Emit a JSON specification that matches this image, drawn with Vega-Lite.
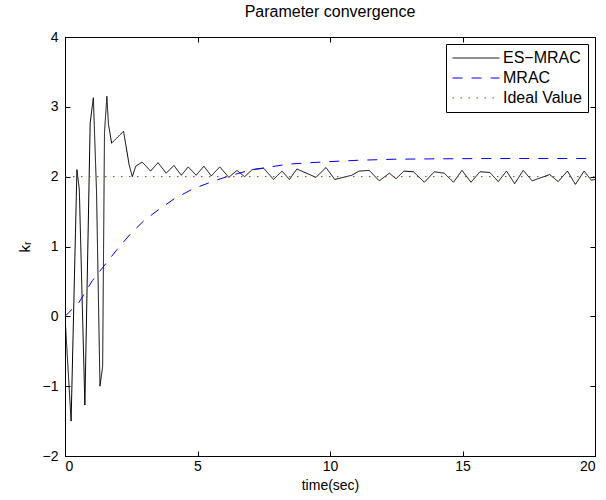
{
  "$schema": "https://vega.github.io/schema/vega-lite/v6.json",
  "width": 530,
  "height": 419,
  "autosize": {"type": "none"},
  "padding": {"left": 65, "top": 37, "right": 11, "bottom": 44},
  "background": "white",
  "config": {
    "font": "Liberation Sans",
    "view": {"stroke": "black", "strokeWidth": 1},
    "axis": {"grid": false, "domainColor": "black", "tickColor": "black", "labelColor": "black", "titleColor": "black", "labelFontSize": 14, "titleFontSize": 14, "titleFontWeight": "normal", "tickSize": -5}
  },
  "title": {"text": "Parameter convergence", "fontSize": 16, "fontWeight": "normal", "font": "Liberation Sans", "offset": 10, "color": "black"},
  "datasets": {
    "lines": [
      {"series": "ES−MRAC", "t": 0, "v": 0.0},
      {"series": "ES−MRAC", "t": 0.23, "v": -1.50},
      {"series": "ES−MRAC", "t": 0.45, "v": 2.10},
      {"series": "ES−MRAC", "t": 0.54, "v": 1.82},
      {"series": "ES−MRAC", "t": 0.75, "v": -1.27},
      {"series": "ES−MRAC", "t": 0.95, "v": 2.77},
      {"series": "ES−MRAC", "t": 1.07, "v": 3.13},
      {"series": "ES−MRAC", "t": 1.19, "v": 1.78},
      {"series": "ES−MRAC", "t": 1.32, "v": -1.0},
      {"series": "ES−MRAC", "t": 1.42, "v": -0.72},
      {"series": "ES−MRAC", "t": 1.49, "v": 2.63},
      {"series": "ES−MRAC", "t": 1.58, "v": 3.15},
      {"series": "ES−MRAC", "t": 1.64, "v": 2.75},
      {"series": "ES−MRAC", "t": 1.76, "v": 2.48},
      {"series": "ES−MRAC", "t": 2.21, "v": 2.65},
      {"series": "ES−MRAC", "t": 2.42, "v": 2.17},
      {"series": "ES−MRAC", "t": 2.54, "v": 2.00},
      {"series": "ES−MRAC", "t": 2.67, "v": 2.15},
      {"series": "ES−MRAC", "t": 2.91, "v": 2.21},
      {"series": "ES−MRAC", "t": 3.23, "v": 2.08},
      {"series": "ES−MRAC", "t": 3.51, "v": 2.20},
      {"series": "ES−MRAC", "t": 3.82, "v": 2.05},
      {"series": "ES−MRAC", "t": 4.11, "v": 2.16},
      {"series": "ES−MRAC", "t": 4.39, "v": 2.02},
      {"series": "ES−MRAC", "t": 4.65, "v": 2.14},
      {"series": "ES−MRAC", "t": 4.95, "v": 2.02},
      {"series": "ES−MRAC", "t": 5.24, "v": 2.15},
      {"series": "ES−MRAC", "t": 5.52, "v": 2.01},
      {"series": "ES−MRAC", "t": 5.84, "v": 2.14},
      {"series": "ES−MRAC", "t": 6.18, "v": 1.99},
      {"series": "ES−MRAC", "t": 6.49, "v": 2.09},
      {"series": "ES−MRAC", "t": 6.78, "v": 2.00},
      {"series": "ES−MRAC", "t": 7.06, "v": 2.10},
      {"series": "ES−MRAC", "t": 7.50, "v": 2.12},
      {"series": "ES−MRAC", "t": 7.87, "v": 1.96},
      {"series": "ES−MRAC", "t": 8.19, "v": 2.08},
      {"series": "ES−MRAC", "t": 8.47, "v": 1.96},
      {"series": "ES−MRAC", "t": 8.75, "v": 2.11},
      {"series": "ES−MRAC", "t": 9.47, "v": 1.99},
      {"series": "ES−MRAC", "t": 9.85, "v": 2.13},
      {"series": "ES−MRAC", "t": 10.18, "v": 1.96},
      {"series": "ES−MRAC", "t": 10.82, "v": 2.02},
      {"series": "ES−MRAC", "t": 11.10, "v": 2.08},
      {"series": "ES−MRAC", "t": 11.48, "v": 2.09},
      {"series": "ES−MRAC", "t": 11.86, "v": 1.94},
      {"series": "ES−MRAC", "t": 12.24, "v": 2.05},
      {"series": "ES−MRAC", "t": 12.49, "v": 1.97},
      {"series": "ES−MRAC", "t": 12.79, "v": 2.08},
      {"series": "ES−MRAC", "t": 13.15, "v": 2.07},
      {"series": "ES−MRAC", "t": 13.56, "v": 1.92},
      {"series": "ES−MRAC", "t": 13.94, "v": 2.07},
      {"series": "ES−MRAC", "t": 14.31, "v": 2.05},
      {"series": "ES−MRAC", "t": 14.66, "v": 1.92},
      {"series": "ES−MRAC", "t": 14.98, "v": 2.09},
      {"series": "ES−MRAC", "t": 15.32, "v": 1.92},
      {"series": "ES−MRAC", "t": 15.66, "v": 2.07},
      {"series": "ES−MRAC", "t": 16.03, "v": 2.06},
      {"series": "ES−MRAC", "t": 16.35, "v": 1.93},
      {"series": "ES−MRAC", "t": 16.66, "v": 2.08},
      {"series": "ES−MRAC", "t": 16.97, "v": 1.90},
      {"series": "ES−MRAC", "t": 17.29, "v": 2.09},
      {"series": "ES−MRAC", "t": 17.63, "v": 1.94},
      {"series": "ES−MRAC", "t": 18.29, "v": 2.03},
      {"series": "ES−MRAC", "t": 18.61, "v": 1.93},
      {"series": "ES−MRAC", "t": 18.96, "v": 2.08},
      {"series": "ES−MRAC", "t": 19.26, "v": 1.89},
      {"series": "ES−MRAC", "t": 19.59, "v": 2.08},
      {"series": "ES−MRAC", "t": 19.86, "v": 1.95},
      {"series": "ES−MRAC", "t": 20, "v": 1.96},
      {"series": "MRAC", "t": 0, "v": 0.0},
      {"series": "MRAC", "t": 0.53, "v": 0.20},
      {"series": "MRAC", "t": 1.03, "v": 0.51},
      {"series": "MRAC", "t": 1.53, "v": 0.75},
      {"series": "MRAC", "t": 1.97, "v": 0.96},
      {"series": "MRAC", "t": 2.47, "v": 1.18},
      {"series": "MRAC", "t": 2.98, "v": 1.37},
      {"series": "MRAC", "t": 3.54, "v": 1.53},
      {"series": "MRAC", "t": 4.11, "v": 1.68},
      {"series": "MRAC", "t": 4.8, "v": 1.82},
      {"series": "MRAC", "t": 5.42, "v": 1.91},
      {"series": "MRAC", "t": 6.18, "v": 2.01},
      {"series": "MRAC", "t": 7.06, "v": 2.10},
      {"series": "MRAC", "t": 8.44, "v": 2.18},
      {"series": "MRAC", "t": 9.69, "v": 2.21},
      {"series": "MRAC", "t": 11.07, "v": 2.235},
      {"series": "MRAC", "t": 12.45, "v": 2.25},
      {"series": "MRAC", "t": 14, "v": 2.255},
      {"series": "MRAC", "t": 16, "v": 2.26},
      {"series": "MRAC", "t": 18, "v": 2.26},
      {"series": "MRAC", "t": 20, "v": 2.26},
      {"series": "Ideal Value", "t": 0, "v": 2},
      {"series": "Ideal Value", "t": 20, "v": 2}
    ]
  },
  "data": {"name": "lines"},
  "layer": [
    {
      "mark": {"type": "line", "strokeWidth": 1, "clip": true},
      "encoding": {
        "x": {"field": "t", "type": "quantitative", "scale": {"domain": [0, 20], "nice": false}, "axis": {"values": [0, 5, 10, 15, 20], "title": "time(sec)", "titlePadding": 5, "labelPadding": 8}},
        "y": {"field": "v", "type": "quantitative", "scale": {"domain": [-2, 4], "nice": false, "zero": false}, "axis": {"values": [-2, -1, 0, 1, 2, 3, 4], "title": "kᵣ", "titlePadding": 10, "titleFontSize": 15, "labelPadding": 12}},
        "color": {"field": "series", "type": "nominal", "scale": {"domain": ["ES−MRAC", "MRAC", "Ideal Value"], "range": ["#000000", "#0000ff", "#ff0000"]},
          "legend": {"title": null, "orient": "top-right", "offset": 7, "strokeColor": "black", "fillColor": "white", "padding": 6, "labelFontSize": 16, "labelColor": "black", "symbolType": "stroke", "symbolSize": 2200, "symbolStrokeWidth": 1, "labelOffset": 3, "clipHeight": 16, "rowPadding": 4}},
        "strokeDash": {"field": "series", "type": "nominal", "scale": {"domain": ["ES−MRAC", "MRAC", "Ideal Value"], "range": [[1, 0], [10, 9], [1.5, 6.5]]}, "legend": null},
        "detail": {"field": "series"}
      }
    },
    {
      "mark": {"type": "point", "opacity": 0},
      "encoding": {
        "x": {"field": "t", "type": "quantitative", "axis": {"orient": "top", "values": [0, 5, 10, 15, 20], "labels": false, "title": null}},
        "y": {"field": "v", "type": "quantitative", "axis": {"orient": "right", "values": [-2, -1, 0, 1, 2, 3, 4], "labels": false, "title": null}}
      }
    }
  ],
  "resolve": {"axis": {"x": "independent", "y": "independent"}}
}
